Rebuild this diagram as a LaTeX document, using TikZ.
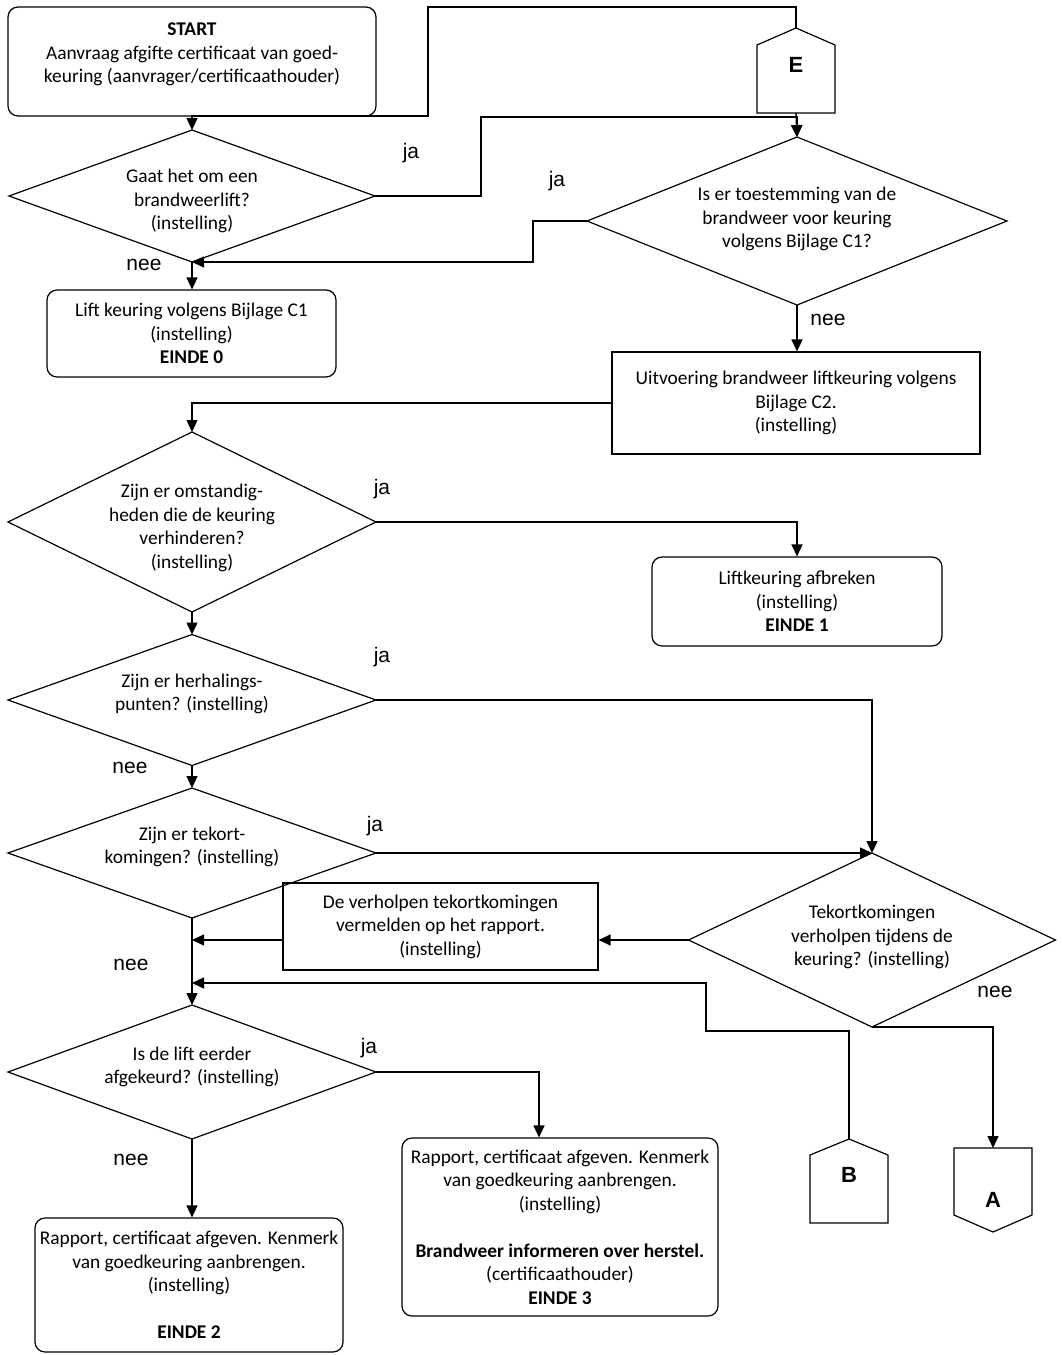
\documentclass[tikz,border=0pt]{standalone}
\usepackage{fontspec}
\setmainfont{Carlito}
\newfontfamily\arialfont{Liberation Sans}
\usetikzlibrary{arrows.meta, shapes.geometric, calc}

\begin{document}
\begin{tikzpicture}[
    x=1pt, y=-1pt,
    every node/.style={font=\fontsize{19.4}{23.5}\selectfont, align=center},
    lijn/.style={line width=1.2pt},
    pijl/.style={line width=1.4pt, -{Triangle[length=12pt, width=11pt]}},
    rondbox/.style={draw, lijn, rounded corners=10pt, inner sep=0pt},
    hoekbox/.style={draw, lijn, inner sep=0pt},
    keuze/.style={draw, lijn, diamond, inner sep=0pt, outer sep=0pt},
    antw/.style={font=\arialfont\fontsize{21}{21}\selectfont},
    verbinder/.style={inner sep=0pt, outer sep=0pt, minimum width=78pt,
                      font=\arialfont\bfseries\fontsize{22}{22}\selectfont}
  ]
  \useasboundingbox (0,0) rectangle (1063,1355);

  % blokken
  \node[rondbox, minimum width=368pt, minimum height=109pt] (start) at (192,61.5)
       {\textbf{START}\\Aanvraag afgifte certificaat van goed-\\keuring (aanvrager/certificaathouder)\\[-6pt]};
  \node[rondbox, minimum width=289pt, minimum height=87pt] (einde0) at (191.5,333.5)
       {Lift keuring volgens Bijlage C1\\(instelling)\\\textbf{EINDE 0}};
  \node[hoekbox, minimum width=368pt, minimum height=102pt] (bijlc2) at (796,403)
       {Uitvoering brandweer liftkeuring volgens\\Bijlage C2.\\(instelling)};
  \node[rondbox, minimum width=290pt, minimum height=89pt] (einde1) at (797,601.5)
       {Liftkeuring afbreken\\(instelling)\\\textbf{EINDE 1}};
  \node[hoekbox, minimum width=315pt, minimum height=87pt] (vermeld) at (440.5,926.5)
       {De verholpen tekortkomingen\\vermelden op het rapport.\\(instelling)};
  \node[rondbox, minimum width=308pt, minimum height=134pt] (einde2) at (189,1285)
       {Rapport, certificaat afgeven. Kenmerk\\van goedkeuring aanbrengen.\\(instelling)\\[23.5pt]\textbf{EINDE 2}};
  \node[rondbox, minimum width=316pt, minimum height=178pt] (einde3) at (560,1227)
       {Rapport, certificaat afgeven. Kenmerk\\van goedkeuring aanbrengen.\\(instelling)\\[23.5pt]%
        \textbf{Brandweer informeren over herstel.}\\(certificaathouder)\\\textbf{EINDE 3}};

  % keuzes
  \node[keuze, minimum width=366pt, minimum height=132pt] (brlift) at (192,196) {};
  \node (brliftt) at ([yshift=-5pt]brlift) {Gaat het om een\\brandweerlift?\\(instelling)};
  \node[keuze, minimum width=420pt, minimum height=168pt] (toest) at (797,221) {};
  \node (toestt) at ([yshift=2pt]toest) {Is er toestemming van de\\brandweer voor keuring\\volgens Bijlage C1?};
  \node[keuze, minimum width=368pt, minimum height=180pt] (omst) at (192,522) {};
  \node (omstt) at ([yshift=-6pt]omst) {Zijn er omstandig-\\heden die de keuring\\verhinderen?\\(instelling)};
  \node[keuze, minimum width=368pt, minimum height=131pt] (herh) at (192,700) {};
  \node (herht) at ([yshift=6pt]herh) {Zijn er herhalings-\\punten? (instelling)};
  \node[keuze, minimum width=368pt, minimum height=130pt] (tekort) at (192,853) {};
  \node (tekortt) at ([yshift=6pt]tekort) {Zijn er tekort-\\komingen? (instelling)};
  \node[keuze, minimum width=367pt, minimum height=174pt] (verh) at (872,940) {};
  \node (verht) at ([yshift=3pt]verh) {Tekortkomingen\\verholpen tijdens de\\keuring? (instelling)};
  \node[keuze, minimum width=368pt, minimum height=134pt] (afgek) at (192,1072) {};
  \node (afgekt) at ([yshift=5pt]afgek) {Is de lift eerder\\afgekeurd? (instelling)};

  % verbindingspunten
  \node[verbinder, minimum height=85pt, text height=12pt, text depth=9pt] (conE) at (796,70.5) {E};
  \draw[lijn] (conE.south west) -- (conE.south east) -- ([yshift=-17pt]conE.north east)
       -- (conE.north) -- ([yshift=-17pt]conE.north west) -- cycle;
  \node[verbinder, minimum height=84pt, text height=12pt, text depth=10pt] (conB) at (849,1181) {B};
  \draw[lijn] (conB.south west) -- (conB.south east) -- ([yshift=-16pt]conB.north east)
       -- (conB.north) -- ([yshift=-16pt]conB.north west) -- cycle;
  \node[verbinder, minimum height=84pt, text height=40pt, text depth=6pt] (conA) at (993,1190) {A};
  \draw[lijn] (conA.north west) -- (conA.north east) -- ([yshift=17pt]conA.south east)
       -- (conA.south) -- ([yshift=17pt]conA.south west) -- cycle;

  % antwoorden
  \node[antw] (ja1) at (411,153) {ja};
  \node[antw] (nee1) at (144,265) {nee};
  \node[antw] (ja2) at (557,181) {ja};
  \node[antw] (nee2) at (828,320) {nee};
  \node[antw] (ja3) at (382,489) {ja};
  \node[antw] (ja4) at (382,657) {ja};
  \node[antw] (nee4) at (130,768) {nee};
  \node[antw] (ja5) at (375,826) {ja};
  \node[antw] (nee5) at (131,965) {nee};
  \node[antw] (nee6) at (995,992) {nee};
  \node[antw] (ja7) at (369,1048) {ja};
  \node[antw] (nee7) at (131,1160) {nee};

  % pijlen
  \draw[pijl] (conE.north) |- (428,7) -- (428,116) -| (brlift.north);
  \draw[pijl] (brlift.east) -| (481,117) -| (toest.north);
  \draw[pijl] (conE.south) -- (toest.north);
  \draw[pijl] (toest.west) -- ++(-54,0) |- (brlift.south);
  \draw[pijl] (brlift.south) -- (einde0.north -| brlift.south);
  \draw[pijl] (toest.south) -- (toest.south |- bijlc2.north);
  \draw[pijl] (bijlc2.west) -| (omst.north);
  \draw[pijl] (omst.east) -| (einde1.north);
  \draw[pijl] (omst.south) -- (herh.north);
  \draw[pijl] (herh.east) -| (verh.north);
  \draw[pijl] (herh.south) -- (tekort.north);
  \draw[pijl] (tekort.east) -- (tekort.east -| verh.north);
  \draw[pijl] (verh.west) -- (verh.west -| vermeld.east);
  \draw[pijl] (verh.west -| vermeld.west) -- (verh.west -| tekort.south);
  \draw[pijl] (tekort.south) -- (afgek.north);
  \draw[pijl] (conB.north) |- (706,1031) |- ([yshift=22pt]afgek.north);
  \draw[pijl] (verh.south) -| (conA.north);
  \draw[pijl] (afgek.east) -| ([xshift=-21pt]einde3.north);
  \draw[pijl] (afgek.south) -- (afgek.south |- einde2.north);
\end{tikzpicture}
\end{document}
